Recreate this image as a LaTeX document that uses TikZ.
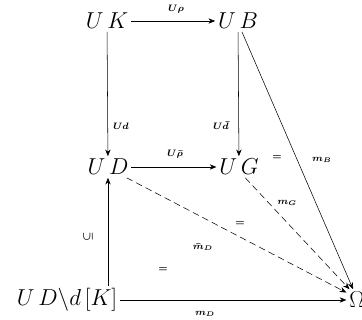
\documentclass[tikz,border=0pt]{standalone}
\usepackage{amsmath,amssymb,graphicx}
\usetikzlibrary{arrows.meta}

\tikzset{
  obj/.style={font=\LARGE, inner sep=2pt},
  lbl/.style={font=\scriptsize\boldmath, inner sep=1pt},
  dsh/.style={dash pattern=on 5pt off 3pt}
}

\begin{document}
\begin{tikzpicture}[x=0.75pt, y=-0.75pt, >={Stealth[length=5pt,width=4pt]}]
    \useasboundingbox (0,0) rectangle (362,320);
    \node[obj] at(107,21)(uk){$U\,K$};
    \node[obj] at(238,21)(ub){$U\,B$};
    \node[obj] at(108,167)(ud){$U\,D$};
    \node[obj] at(239,167)(ug){$U\,G$};
    \node[obj] at(67,300)(udk){$U\,D\backslash d\,[K]$};
    \node[obj] at(357,300)(om){$\Omega$};
    % 
    \draw[->] (uk) -- (ub);
    \draw[->] (ud) -- (ug);
    \draw[->] (uk) -- (ud);
    \draw[->] (ub) -- (ug);
    \draw[->] (udk.north -| ud) -- (ud);
    \draw[->] (udk) -- (om);
    \draw[->] (ub.-70) -- (om.110);
    \draw[->, dsh] (ug.-60) -- (om.125);
    \draw[->, dsh] (ud.-30) -- (om.145);
    % 
    \node[lbl] at(176,9)(l1){$U\rho$};
    \node[lbl] at(175,154)(l2){$U\bar\rho$};
    \node[lbl] at(121,126)(l3){$Ud$};
    \node[lbl] at(221,126)(l4){$U\bar d$};
    \node[lbl] at(88,237)(l5){\rotatebox{90}{$\subseteq$}};
    \node[lbl] at(205,314)(l6){$m_D$};
    \node[lbl] at(203,247)(l7){$\bar m_D$};
    \node[lbl] at(287,203)(l8){$m_G$};
    \node[lbl] at(322,160)(l9){$m_B$};
    \node[lbl] at(277,158)(e1){$=$};
    \node[lbl] at(240,224)(e2){$=$};
    \node[lbl] at(163,270)(e3){$=$};
\end{tikzpicture}
\end{document}
